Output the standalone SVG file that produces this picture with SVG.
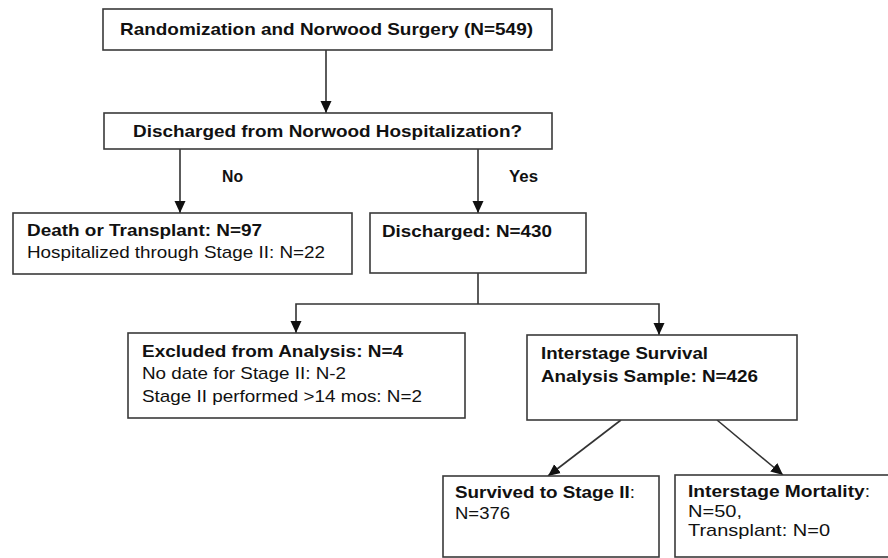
<svg xmlns="http://www.w3.org/2000/svg" width="888" height="558" viewBox="0 0 888 558">
<style>
.box{fill:#fff;stroke:#3a3a3a;stroke-width:1.6}
.t{font-family:"Liberation Sans",Arial,sans-serif;font-size:17px;fill:#111}
.s{font-size:16px}
.b{font-weight:bold}
.c{fill:none;stroke:#333;stroke-width:1.6}
</style>
<defs>
<marker id="ah" markerUnits="userSpaceOnUse" markerWidth="12" markerHeight="12" refX="12" refY="6" orient="auto">
<path d="M0,0.5 L12,6 L0,11.5 z" fill="#111"/>
</marker>
</defs>
<rect width="888" height="558" fill="#fff"/>
<g id="connectors">
<line class="c" x1="326" y1="50" x2="326" y2="113" marker-end="url(#ah)"/>
<line class="c" x1="180" y1="149" x2="180" y2="213" marker-end="url(#ah)"/>
<line class="c" x1="478" y1="149" x2="478" y2="213" marker-end="url(#ah)"/>
<polyline class="c" points="478,273 478,304"/>
<polyline class="c" points="478,304 296,304 296,333" marker-end="url(#ah)"/>
<polyline class="c" points="478,304 659,304 659,335" marker-end="url(#ah)"/>
<line class="c" x1="621" y1="420" x2="548" y2="476" marker-end="url(#ah)"/>
<line class="c" x1="717" y1="420" x2="783" y2="475" marker-end="url(#ah)"/>
<text class="t s b" x="222" y="182" textLength="21" lengthAdjust="spacingAndGlyphs">No</text>
<text class="t s b" x="509" y="182" textLength="29" lengthAdjust="spacingAndGlyphs">Yes</text>
</g>
<g id="n1">
<rect class="box" x="103" y="9" width="449" height="41"/>
<text class="t b" x="120" y="35" textLength="413" lengthAdjust="spacingAndGlyphs">Randomization and Norwood Surgery (N=549)</text>
</g>
<g id="n2">
<rect class="box" x="104" y="113" width="448" height="36"/>
<text class="t b" x="133" y="137" textLength="389" lengthAdjust="spacingAndGlyphs">Discharged from Norwood Hospitalization?</text>
</g>
<g id="n3">
<rect class="box" x="13" y="213" width="339" height="61"/>
<text class="t b" x="27" y="236" textLength="235" lengthAdjust="spacingAndGlyphs">Death or Transplant: N=97</text>
<text class="t" x="27" y="258" textLength="298" lengthAdjust="spacingAndGlyphs">Hospitalized through Stage II: N=22</text>
</g>
<g id="n4">
<rect class="box" x="370" y="213" width="216" height="60"/>
<text class="t b" x="382" y="237" textLength="170" lengthAdjust="spacingAndGlyphs">Discharged: N=430</text>
</g>
<g id="n5">
<rect class="box" x="128" y="333" width="337" height="85"/>
<text class="t b" x="142" y="357" textLength="261" lengthAdjust="spacingAndGlyphs">Excluded from Analysis: N=4</text>
<text class="t" x="142" y="379" textLength="204" lengthAdjust="spacingAndGlyphs">No date for Stage II: N-2</text>
<text class="t" x="142" y="402" textLength="280" lengthAdjust="spacingAndGlyphs">Stage II performed &gt;14 mos: N=2</text>
</g>
<g id="n6">
<rect class="box" x="527" y="335" width="270" height="85"/>
<text class="t b" x="541" y="359" textLength="167" lengthAdjust="spacingAndGlyphs">Interstage Survival</text>
<text class="t b" x="541" y="382" textLength="217" lengthAdjust="spacingAndGlyphs">Analysis Sample: N=426</text>
</g>
<g id="n7">
<rect class="box" x="443" y="476" width="216" height="81"/>
<text class="t" x="455" y="498" textLength="180" lengthAdjust="spacingAndGlyphs"><tspan class="b">Survived to Stage II</tspan>:</text>
<text class="t" x="455" y="519" textLength="55" lengthAdjust="spacingAndGlyphs">N=376</text>
</g>
<g id="n8">
<rect class="box" x="675" y="475" width="216" height="82"/>
<text class="t" x="688" y="497" textLength="182" lengthAdjust="spacingAndGlyphs"><tspan class="b">Interstage Mortality</tspan>:</text>
<text class="t" x="688" y="517" textLength="54" lengthAdjust="spacingAndGlyphs">N=50,</text>
<text class="t" x="688" y="536" textLength="142" lengthAdjust="spacingAndGlyphs">Transplant: N=0</text>
</g>
</svg>
